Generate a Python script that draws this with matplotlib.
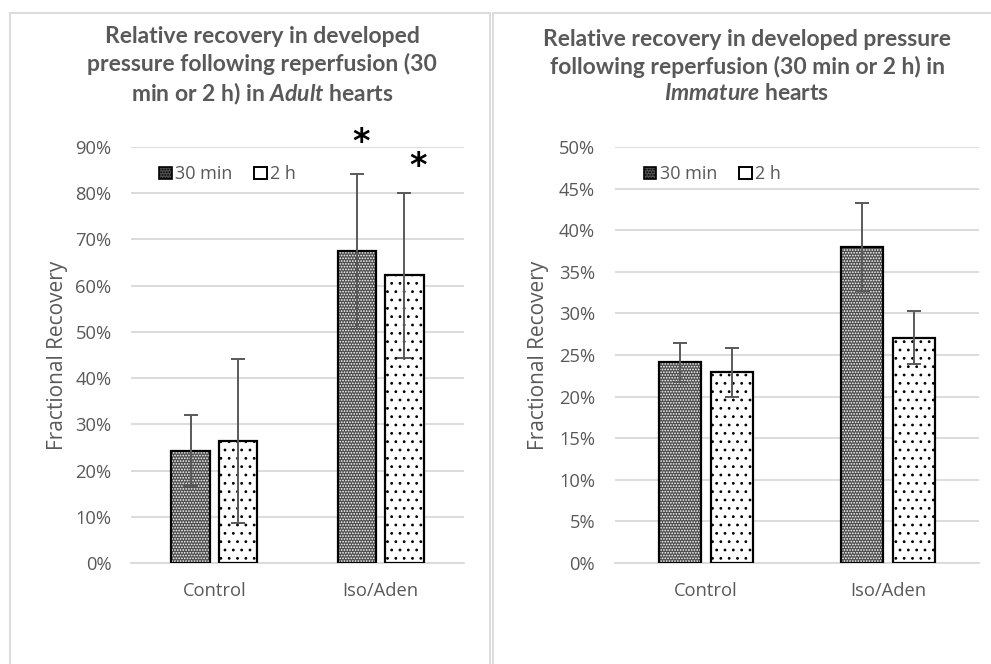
import matplotlib.pyplot as plt
from matplotlib.patches import Patch
import numpy as np

# recovery data (fraction of baseline developed pressure)
groups = ["Control", "Iso/Aden"]

adult_30min = [0.243, 0.674]
adult_30min_err = [0.077, 0.168]
adult_2h = [0.264, 0.622]
adult_2h_err = [0.177, 0.179]

immature_30min = [0.241, 0.380]
immature_30min_err = [0.023, 0.053]
immature_2h = [0.229, 0.271]
immature_2h_err = [0.029, 0.032]

# significance stars on the adult Iso/Aden bars
adult_stars = [0.909, 0.857]

plt.rcParams["mathtext.fontset"] = "custom"
plt.rcParams["mathtext.it"] = "Lato:italic:bold"
plt.rcParams["mathtext.rm"] = "Lato:bold"
plt.rcParams["hatch.linewidth"] = 0.8

txt_col = "#595959"
grid_col = "#d9d9d9"
dark_fill = "#4e4e4e"

fig = plt.figure(figsize=(9.91, 6.64), dpi=100)

# chart area boxes
for x0, x1 in [(10, 489.5), (492.5, 995)]:
    fig.add_artist(plt.Rectangle((x0 / 991, -0.1), (x1 - x0) / 991, 1.1 - 13.5 / 664,
                                 transform=fig.transFigure, fill=False,
                                 edgecolor=grid_col, lw=1.3))


def draw_panel(ax, v30, e30, v2, e2, ymax, step):
    x = np.arange(len(groups))
    w = 0.23
    off = 0.142
    # 30 min: dark fine pattern
    ax.bar(x - off, v30, w, color=dark_fill, edgecolor="white", hatch="......", lw=0, zorder=2)
    ax.bar(x - off, v30, w, fill=False, edgecolor="black", lw=1.6, zorder=3)
    # 2 h: white with dots
    ax.bar(x + off, v2, w, color="white", edgecolor="black", hatch="..", lw=0, zorder=2)
    ax.bar(x + off, v2, w, fill=False, edgecolor="black", lw=1.6, zorder=3)
    ax.errorbar(x - off, v30, yerr=e30, fmt="none", ecolor=txt_col, elinewidth=1.4,
                capsize=5, capthick=1.4, zorder=4)
    ax.errorbar(x + off, v2, yerr=e2, fmt="none", ecolor=txt_col, elinewidth=1.4,
                capsize=5, capthick=1.4, zorder=4)

    ax.set_xlim(-0.5, len(groups) - 0.5)
    ax.set_ylim(0, ymax)
    ticks = np.arange(0, ymax + 1e-9, step)
    ax.set_yticks(ticks)
    ax.set_yticklabels([f"{t * 100:.0f}%" for t in ticks])
    ax.set_xticks(x)
    ax.set_xticklabels(groups)
    ax.yaxis.grid(True, color=grid_col, lw=1.3)
    ax.set_axisbelow(True)
    for s in ["top", "right", "left"]:
        ax.spines[s].set_visible(False)
    ax.spines["bottom"].set_color(grid_col)
    ax.spines["bottom"].set_linewidth(1.3)
    ax.tick_params(length=0, labelsize=13.2, colors=txt_col)
    ax.tick_params(axis="x", pad=14)
    ax.tick_params(axis="y", pad=14)
    for lab in ax.get_xticklabels() + ax.get_yticklabels():
        lab.set_fontfamily("Open Sans")
    ax.set_ylabel("Fractional Recovery", fontsize=15, color=txt_col, family="Open Sans")

    handles = [Patch(facecolor=dark_fill, edgecolor="black", hatch="......", lw=1.2),
               Patch(facecolor="white", edgecolor="black", lw=1.4)]
    ax.legend(handles, ["30 min", "2 h"], loc="upper left", bbox_to_anchor=(0.035, 0.995),
              ncol=2, frameon=False, handlelength=0.7, handleheight=0.7,
              handletextpad=0.2, columnspacing=1.2,
              prop={"family": "Open Sans", "size": 13}, labelcolor=txt_col)


bottom = (664 - 563) / 664
height = 416 / 664

ax1 = fig.add_axes([131 / 991, bottom, 333 / 991, height])
draw_panel(ax1, adult_30min, adult_30min_err, adult_2h, adult_2h_err, 0.9, 0.1)
ax1.yaxis.set_label_coords(-0.19, 0.5)
ax1.text(1 - 0.142 + 0.024, adult_stars[0], "*", fontsize=24, fontweight="bold",
         ha="center", va="center", clip_on=False)
ax1.text(1 + 0.142 + 0.084, adult_stars[1], "*", fontsize=24, fontweight="bold",
         ha="center", va="center", clip_on=False)

ax2 = fig.add_axes([614.6 / 991, bottom, 364.8 / 991, height])
draw_panel(ax2, immature_30min, immature_30min_err, immature_2h, immature_2h_err, 0.5, 0.05)
ax2.yaxis.set_label_coords(-0.18, 0.5)

title_kw = dict(ha="center", va="center", fontsize=16.5, fontweight="bold",
                color=txt_col, family="Lato", linespacing=1.3)
fig.text(262 / 991, 1 - 66.5 / 664,
         "Relative recovery in developed\npressure following reperfusion (30\n"
         "min or 2 h) in $\\mathit{Adult}$ hearts", **title_kw)
fig.text(747 / 991, 1 - 66.5 / 664,
         "Relative recovery in developed pressure\nfollowing reperfusion (30 min or 2 h) in\n"
         "$\\mathit{Immature}$ hearts", **title_kw)

fig.savefig("out.png", dpi=100)
